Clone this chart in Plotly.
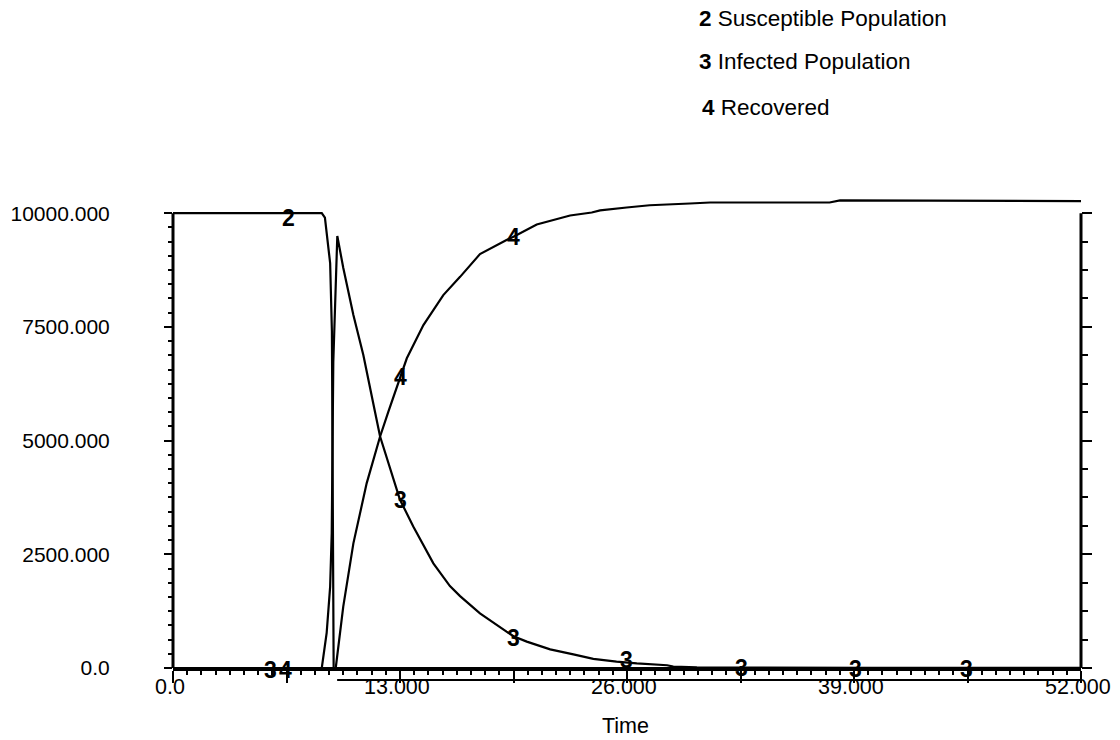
import plotly.graph_objects as go

# ---------------- data ----------------
susceptible_t = [0, 8.4, 8.52, 8.7, 9.0, 9.1, 9.13, 9.15, 9.17, 9.2, 52]
susceptible_v = [10000, 10000, 10000, 9900, 8900, 7400, 5600, 3000, 1000, 0, 0]

infected_t = [0, 8.52, 8.8, 9.0, 9.09, 9.13, 9.18, 9.41, 9.75, 10.33, 10.9, 11.57, 11.86,
              13.0, 13.76, 14.91, 15.86, 16.44, 17.58, 19.1, 19.5, 20.26, 21.6, 22.93,
              24.07, 25.4, 26.0, 26.56, 28.3, 28.65, 30, 35, 40, 52]
infected_v = [0, 0, 770, 1790, 2970, 5000, 6730, 9500, 8800, 7760, 6880, 5630, 5090,
              3700, 3110, 2300, 1800, 1580, 1200, 800, 700, 580, 410, 300,
              200, 140, 120, 100, 60, 30, 15, 8, 5, 2]

recovered_t = [0, 9.32, 9.75, 10.33, 11.09, 11.86, 12.33, 13.0, 13.39, 14.34, 15.48, 16.44,
               17.58, 19.1, 19.5, 20.83, 22.74, 23.98, 24.46, 25.98, 27.3, 29.6, 30.76,
               37.6, 38.2, 52]
recovered_v = [0, 0, 1350, 2740, 4060, 5090, 5630, 6400, 6810, 7540, 8200, 8600,
               9100, 9410, 9480, 9750, 9950, 10015, 10060, 10125, 10175, 10213, 10235,
               10235, 10280, 10265]

# curve number labels (Stella style)
label_text = ["2", "3", "4", "4", "4", "3", "3", "3", "3", "3", "3"]
label_t = [6.6, 5.56, 6.43, 13.0, 19.5, 13.0, 19.5, 25.98, 32.57, 39.06, 45.46]
label_v = [9900, -40, -40, 6400, 9480, 3695, 655, 176, -10, -15, -15]

y_tick_vals = [0, 2500, 5000, 7500, 10000]
y_tick_text = ["0.0", "2500.000", "5000.000", "7500.000", "10000.000"]
x_tick_vals = [0, 6.5, 13, 19.5, 26, 32.5, 39, 45.5, 52]
x_label_vals = [0, 13, 26, 39, 52]
x_label_text = ["0.0", "13.000", "26.000", "39.000", "52.000"]

legend_items = [("2", "Susceptible Population"), ("3", "Infected Population"), ("4", "Recovered")]

# ---------------- layout geometry (page pixels, body margin removed) ----------------
FW, FH = 1120, 740
ML, MT = 173, 195
PLOT_RIGHT, PLOT_BOTTOM = 1081, 668
MR, MB = FW - PLOT_RIGHT, FH - PLOT_BOTTOM
PW, PH = FW - ML - MR, FH - MT - MB
YMAX = 10400
FONT = "Liberation Sans, Arial, sans-serif"


def px_x(px):
    return (px - ML) / PW


def px_y(py):
    return (FH - MB - py) / PH


fig = go.Figure()
line_style = dict(color="black", width=2.2)
fig.add_trace(go.Scatter(x=susceptible_t, y=susceptible_v, mode="lines", line=line_style,
                         name="Susceptible Population", showlegend=False, hoverinfo="skip"))
fig.add_trace(go.Scatter(x=infected_t, y=infected_v, mode="lines", line=line_style,
                         name="Infected Population", showlegend=False, hoverinfo="skip"))
fig.add_trace(go.Scatter(x=recovered_t, y=recovered_v, mode="lines", line=line_style,
                         name="Recovered", showlegend=False, hoverinfo="skip"))
# dummy trace for the right axis
fig.add_trace(go.Scatter(x=[None], y=[None], yaxis="y2", showlegend=False, hoverinfo="skip"))

# curve number labels (paper y so that labels just below 0 are kept)
for txt, t, v in zip(label_text, label_t, label_v):
    fig.add_annotation(xref="x", yref="paper", x=t, y=v / YMAX, text="<b>%s</b>" % txt,
                       showarrow=False, xanchor="center", yanchor="middle",
                       borderpad=0,
                       font=dict(family=FONT, size=23, color="black"))

minor_y = [i * 312.5 for i in range(33)]
minor_y2 = [i * 625 for i in range(17)]
minor_x = [i * 0.8125 for i in range(65)]

fig.update_layout(
    width=FW, height=FH,
    margin=dict(l=ML, r=MR, t=MT, b=MB, pad=0),
    paper_bgcolor="white", plot_bgcolor="white",
    font=dict(family=FONT, size=21, color="black"),
    xaxis=dict(range=[0, 52], showgrid=False, zeroline=False,
               showline=True, linecolor="black", linewidth=3,
               tickmode="array", tickvals=x_tick_vals, showticklabels=False,
               ticks="outside", ticklen=12, tickwidth=2, tickcolor="black",
               minor=dict(tickvals=minor_x, ticks="outside", ticklen=4, tickwidth=2,
                          tickcolor="black", showgrid=False)),
    yaxis=dict(range=[0, YMAX], showgrid=False, zeroline=False, showline=False,
               tickmode="array", tickvals=y_tick_vals, ticktext=y_tick_text,
               ticks="outside", ticklen=8, tickwidth=2, tickcolor="black",
               ticklabelstandoff=50,
               tickfont=dict(family=FONT, size=21, color="black"),
               minor=dict(tickvals=minor_y, ticks="outside", ticklen=4, tickwidth=2,
                          tickcolor="black", showgrid=False)),
    yaxis2=dict(range=[0, YMAX], overlaying="y", side="right", showgrid=False,
                zeroline=False, showline=False, showticklabels=False,
                tickmode="array", tickvals=y_tick_vals,
                ticks="outside", ticklen=10, tickwidth=2, tickcolor="black",
                minor=dict(tickvals=minor_y2, ticks="outside", ticklen=6, tickwidth=2,
                           tickcolor="black", showgrid=False)),
)

# x tick labels
for xv, xt in zip(x_label_vals, x_label_text):
    fig.add_annotation(xref="x", yref="paper", x=xv, y=px_y(687), text=xt, xshift=-3,
                       showarrow=False, xanchor="center", yanchor="middle", borderpad=0,
                       font=dict(family=FONT, size=21.5, color="black"))

# axis lines (left and right stop at 10000, lower secondary line)
fig.add_shape(type="line", xref="paper", yref="y", x0=0, x1=0, y0=0, y1=10000,
              line=dict(color="black", width=3))
fig.add_shape(type="line", xref="paper", yref="y", x0=1, x1=1, y0=0, y1=10000,
              line=dict(color="black", width=3))
fig.add_shape(type="line", xref="x", yref="paper", x0=9.4, x1=52, y0=px_y(680), y1=px_y(680),
              line=dict(color="black", width=2))

# legend text
for (num, name), py in zip(legend_items, [18, 62, 108]):
    fig.add_annotation(xref="paper", yref="paper", x=px_x(697 + (3 if num == "4" else 0)), y=px_y(py),
                       xanchor="left", yanchor="middle", showarrow=False,
                       text="<b>%s</b> %s" % (num, name),
                       font=dict(family=FONT, size=22.5, color="black"))

# axis title
fig.add_annotation(xref="paper", yref="paper", x=px_x(625), y=px_y(726),
                   xanchor="center", yanchor="middle", showarrow=False,
                   text="Time", font=dict(family=FONT, size=21.5, color="black"))

fig.write_html("out.html", config={"displayModeBar": False},
               post_script="document.body.style.margin='0';document.body.style.overflow='hidden';")
